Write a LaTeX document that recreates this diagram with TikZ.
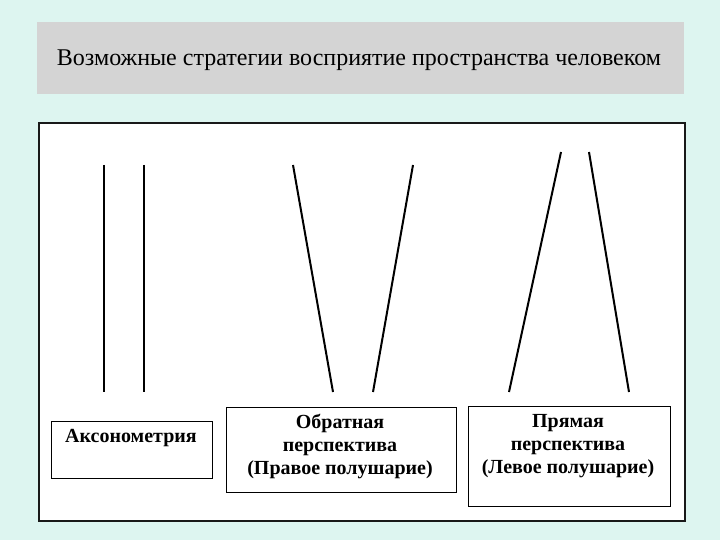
\documentclass[tikz,border=0pt]{standalone}
\usepackage{fontspec}
\setmainfont{Liberation Serif}
\definecolor{bgcyan}{RGB}{221,245,240}
\definecolor{titlegray}{RGB}{212,212,212}
\definecolor{frameblk}{RGB}{25,25,25}
\tikzset{
  ray/.style={line width=2pt, black},
  labelbox/.style={draw=black, line width=1pt, fill=white},
  boxtext/.style={font=\fontsize{20}{23}\selectfont\bfseries, align=center, inner sep=0pt}
}
\begin{document}
\begin{tikzpicture}[x=1pt,y=-1pt]
\useasboundingbox (0,0) rectangle (720,540);
\fill[bgcyan] (0,0) rectangle (720,540);
% title
\node[fill=titlegray, minimum width=647pt, minimum height=72pt, inner sep=0pt, anchor=north west] (title) at (37,22) {};
\node[font=\fontsize{24}{26}\selectfont, anchor=center] (titletext) at (359,60) {Возможные стратегии восприятие пространства человеком};
% main frame
\node[draw=frameblk, line width=2pt, fill=white, minimum width=646pt, minimum height=397pt, inner sep=0pt, anchor=north west] (frame) at (37.5,122.5) {};
% axonometry lines
\coordinate (a1t) at (104,165); \coordinate (a1b) at (104,392);
\coordinate (a2t) at (144,165); \coordinate (a2b) at (144,392);
\draw[ray] (a1t) -- (a1b);
\draw[ray] (a2t) -- (a2b);
% reverse perspective
\coordinate (b1t) at (293,165); \coordinate (b1b) at (333,392);
\coordinate (b2t) at (413,165); \coordinate (b2b) at (373,392);
\draw[ray] (b1t) -- (b1b);
\draw[ray] (b2t) -- (b2b);
% direct perspective
\coordinate (c1t) at (561,152); \coordinate (c1b) at (509,392);
\coordinate (c2t) at (589,152); \coordinate (c2b) at (629,392);
\draw[ray] (c1t) -- (c1b);
\draw[ray] (c2t) -- (c2b);
% label boxes
\node[labelbox, minimum width=161pt, minimum height=57pt, anchor=north west] (box1) at (50.5,420.5) {};
\node[boxtext] (t1) at (131,438) {Аксонометрия};
\node[labelbox, minimum width=230pt, minimum height=85pt, anchor=north west] (box2) at (225.5,406.5) {};
\node[boxtext] (t2) at (340,446) {Обратная\\перспектива\\(Правое полушарие)};
\node[labelbox, minimum width=202pt, minimum height=100pt, anchor=north west] (box3) at (467.5,405.5) {};
\node[boxtext] (t3) at (568,446) {Прямая\\перспектива\\(Левое полушарие)};
\end{tikzpicture}
\end{document}
